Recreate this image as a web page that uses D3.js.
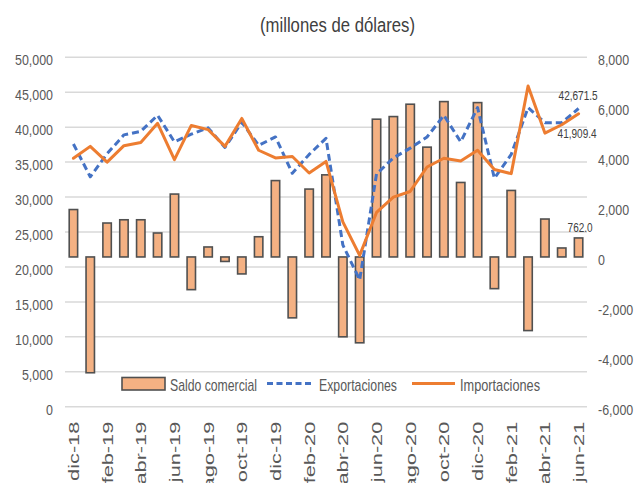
<!DOCTYPE html>
<html>
<head>
<meta charset="utf-8">
<script src="https://cdn.jsdelivr.net/npm/d3@7"></script>
<style>
  html, body { margin: 0; padding: 0; background: #ffffff; }
  svg { display: block; }
  text { font-family: "Liberation Sans", Arial, sans-serif; }
</style>
</head>
<body>
<svg id="chart" width="637" height="483"></svg>
<script>
// ---------- data ----------
const months = ["dic-18","ene-19","feb-19","mar-19","abr-19","may-19","jun-19","jul-19","ago-19","sep-19","oct-19","nov-19",
  "dic-19","ene-20","feb-20","mar-20","abr-20","may-20","jun-20","jul-20","ago-20","sep-20","oct-20","nov-20",
  "dic-20","ene-21","feb-21","mar-21","abr-21","may-21","jun-21"];

const saldo = [1900, -4640, 1360, 1490, 1490, 960, 2520, -1310, 400, -180, -680, 810,
  3060, -2440, 2720, 3290, -3200, -3440, 5520, 5625, 6120, 4400, 6225, 2985,
  6185, -1270, 2665, -2950, 1520, 360, 762.0];

const exportaciones = [37600, 32900, 36200, 38900, 39400, 41700, 37900, 39000, 39900, 37100, 40700, 37400,
  38600, 33400, 36100, 38400, 23150, 18150, 33300, 35600, 37000, 38600, 41700, 37900,
  42800, 32700, 36100, 42800, 40650, 40650, 42671.5];

const importaciones = [35550, 37250, 35000, 37350, 37800, 40550, 35350, 40250, 39650, 37250, 41250, 36700,
  35600, 35800, 33450, 35100, 26450, 21650, 27800, 30000, 30800, 34300, 35550, 35150,
  36700, 33950, 33350, 45900, 39150, 40350, 41909.4];

const xTickLabels = months.filter((m, i) => i % 2 === 0);
const leftTicks = [0, 5000, 10000, 15000, 20000, 25000, 30000, 35000, 40000, 45000, 50000];
const rightTicks = [-6000, -4000, -2000, 0, 2000, 4000, 6000, 8000];
const seriesNames = ["Saldo comercial", "Exportaciones", "Importaciones"];
const title = "(millones de dólares)";

// ---------- layout ----------
const svg = d3.select("#chart");
const plot = { left: 65, right: 587, top: 57.3, bottom: 406.7 };
const textColor = "#595959";
const barFill = "#F4B183", barStroke = "#505050";
const blue = "#4472C4", orange = "#ED7D31";

const x = d3.scaleBand().domain(months).range([plot.left, plot.right]).paddingInner(0.5).paddingOuter(0.25);
const xc = m => x(m) + x.bandwidth() / 2;
const yL = d3.scaleLinear().domain([0, 50000]).range([plot.bottom, plot.top]);
const yR = d3.scaleLinear().domain([-6000, 8000]).range([plot.bottom, plot.top]);
const fmt = v => d3.format(",")(v).replace("\u2212", "-");

// gridlines
svg.append("g").selectAll("line").data(leftTicks).join("line")
  .attr("x1", plot.left).attr("x2", plot.right)
  .attr("y1", d => yL(d)).attr("y2", d => yL(d))
  .attr("stroke", "#d9d9d9").attr("stroke-width", 1.5);

// left axis
const gL = svg.append("g").attr("transform", `translate(${plot.left},0)`)
  .call(d3.axisLeft(yL).tickValues(leftTicks).tickFormat(fmt).tickSize(0));
gL.select(".domain").remove();
gL.selectAll("text")
  .attr("x", 0).attr("dy", "0.5em")
  .attr("text-anchor", "end")
  .attr("transform", "translate(-12,0) scale(0.83,1)")
  .attr("fill", textColor).attr("font-size", 15)
  .attr("font-family", "'Liberation Sans', Arial, sans-serif");

// right axis
const gR = svg.append("g").attr("transform", `translate(${plot.right},0)`)
  .call(d3.axisRight(yR).tickValues(rightTicks).tickFormat(fmt).tickSize(0));
gR.select(".domain").remove();
gR.selectAll("text")
  .attr("x", 0).attr("dy", "0.5em")
  .attr("text-anchor", "start")
  .attr("transform", "translate(11,0) scale(0.83,1)")
  .attr("fill", textColor).attr("font-size", 15)
  .attr("font-family", "'Liberation Sans', Arial, sans-serif");

// x axis labels (rotated)
const gX = svg.append("g").attr("transform", `translate(0,${plot.bottom})`)
  .call(d3.axisBottom(x).tickValues(xTickLabels).tickSize(0));
gX.select(".domain").remove();
gX.selectAll("text")
  .attr("x", 0).attr("y", 0).attr("dy", "0.36em")
  .attr("text-anchor", "end")
  .attr("transform", "translate(0,15) rotate(-90) scale(1.45,1)")
  .attr("fill", textColor).attr("font-size", 15)
  .attr("font-family", "'Liberation Sans', Arial, sans-serif");

// bars
svg.append("g").selectAll("rect").data(months).join("rect")
  .attr("x", m => x(m))
  .attr("width", x.bandwidth())
  .attr("y", (m, i) => Math.min(yR(0), yR(saldo[i])))
  .attr("height", (m, i) => Math.abs(yR(saldo[i]) - yR(0)))
  .attr("fill", barFill).attr("stroke", barStroke).attr("stroke-width", 1.6);

// lines
const line = arr => d3.line().x((m) => xc(m)).y((m, i) => yL(arr[i]))(months);
svg.append("path").attr("d", line(exportaciones))
  .attr("fill", "none").attr("stroke", blue).attr("stroke-width", 3)
  .attr("stroke-dasharray", "7,4").attr("stroke-linejoin", "round");
svg.append("path").attr("d", line(importaciones))
  .attr("fill", "none").attr("stroke", orange).attr("stroke-width", 3)
  .attr("stroke-linejoin", "round").attr("stroke-linecap", "round");

// data labels for last point
const last = months.length - 1;
const fmt1 = d3.format(",.1f");
const lblColor = "#404040";
svg.append("text").attr("x", xc(months[last]) - 20).attr("y", yL(exportaciones[last]) - 8.5)
  .attr("font-size", 13).attr("fill", lblColor).attr("textLength", 39).attr("lengthAdjust", "spacingAndGlyphs")
  .text(fmt1(exportaciones[last]));
svg.append("text").attr("x", xc(months[last]) - 21).attr("y", yL(importaciones[last]) + 24.5)
  .attr("font-size", 13).attr("fill", lblColor).attr("textLength", 39).attr("lengthAdjust", "spacingAndGlyphs")
  .text(fmt1(importaciones[last]));
svg.append("text").attr("x", xc(months[last]) - 11).attr("y", yR(saldo[last]) - 5.5)
  .attr("font-size", 13).attr("fill", lblColor).attr("textLength", 25).attr("lengthAdjust", "spacingAndGlyphs")
  .text(fmt1(saldo[last]));

// title
svg.append("text").attr("x", 260).attr("y", 31.5)
  .attr("font-size", 20).attr("fill", "#404040")
  .attr("textLength", 155).attr("lengthAdjust", "spacingAndGlyphs")
  .text(title);

// legend
const lg = svg.append("g");
lg.append("rect").attr("x", 122).attr("y", 377.5).attr("width", 43).attr("height", 12.5)
  .attr("fill", barFill).attr("stroke", barStroke).attr("stroke-width", 1.6);
lg.append("text").attr("x", 170).attr("y", 390.5).attr("font-size", 17).attr("fill", textColor)
  .attr("textLength", 87).attr("lengthAdjust", "spacingAndGlyphs").text(seriesNames[0]);
lg.append("line").attr("x1", 267).attr("x2", 312).attr("y1", 383.5).attr("y2", 383.5)
  .attr("stroke", blue).attr("stroke-width", 3).attr("stroke-dasharray", "6,3.5");
lg.append("text").attr("x", 319).attr("y", 390.5).attr("font-size", 17).attr("fill", textColor)
  .attr("textLength", 78).attr("lengthAdjust", "spacingAndGlyphs").text(seriesNames[1]);
lg.append("line").attr("x1", 412).attr("x2", 455).attr("y1", 383.5).attr("y2", 383.5)
  .attr("stroke", orange).attr("stroke-width", 3);
lg.append("text").attr("x", 460).attr("y", 390.5).attr("font-size", 17).attr("fill", textColor)
  .attr("textLength", 80).attr("lengthAdjust", "spacingAndGlyphs").text(seriesNames[2]);
</script>
</body>
</html>
